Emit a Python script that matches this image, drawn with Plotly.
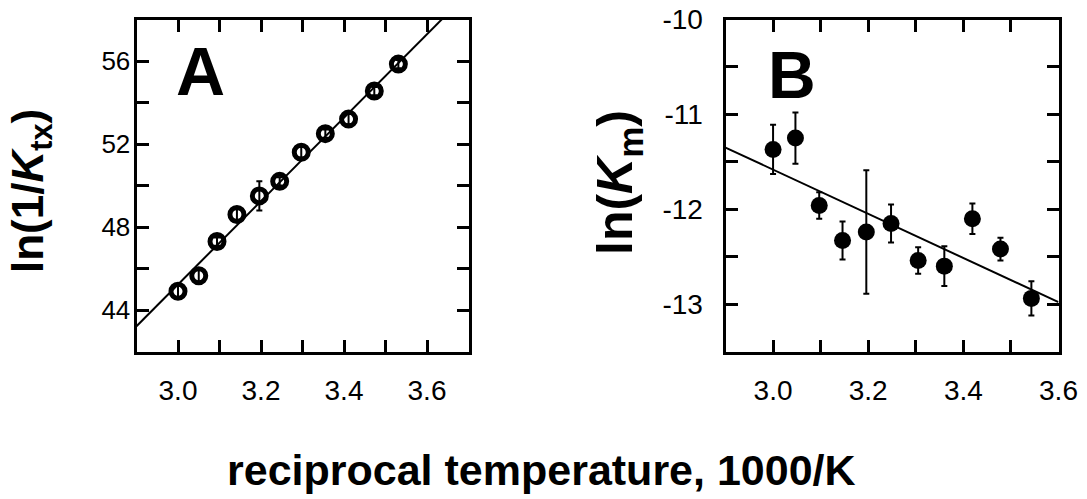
import plotly.graph_objects as go

# Panel A: ln(1/Ktx) vs reciprocal temperature
a_x = [3.00, 3.05, 3.094, 3.142, 3.196, 3.245, 3.297, 3.355, 3.411, 3.473, 3.531]
a_y = [44.9, 45.65, 47.3, 48.6, 49.5, 50.2, 51.6, 52.5, 53.2, 54.55, 55.85]
a_err = [0.3, 0.3, 0.2, 0.25, 0.7, 0.2, 0.25, 0.2, 0.25, 0.2, 0.2]
a_fit_x = [2.9, 3.7]
a_fit_y = [43.22, 59.3]

# Panel B: ln(Km) vs reciprocal temperature
b_x = [3.00, 3.047, 3.097, 3.146, 3.196, 3.248, 3.305, 3.36, 3.419, 3.478, 3.543]
b_y = [-11.37, -11.25, -11.96, -12.33, -12.24, -12.15, -12.54, -12.60, -12.10, -12.42, -12.94]
b_err = [0.26, 0.27, 0.14, 0.20, 0.65, 0.20, 0.14, 0.21, 0.16, 0.12, 0.18]
b_fit_x = [2.9, 3.6]
b_fit_y = [-11.35, -12.98]

# Tick positions and labels
a_xticks = [3.0, 3.1, 3.2, 3.3, 3.4, 3.5, 3.6]
a_xlabels = ["3.0", "", "3.2", "", "3.4", "", "3.6"]
a_yticks = [44, 46, 48, 50, 52, 54, 56]
a_ylabels = ["44", "", "48", "", "52", "", "56"]
b_xticks = [3.0, 3.1, 3.2, 3.3, 3.4, 3.5, 3.6]
b_xlabels = ["3.0", "", "3.2", "", "3.4", "", "3.6"]
b_yticks = [-13.0, -12.5, -12.0, -11.5, -11.0, -10.5, -10.0]
b_ylabels = ["-13", "", "-12", "", "-11", "", "-10"]

FONT = "Arial, Liberation Sans, sans-serif"
W, H = 1087, 499

fig = go.Figure()

fig.add_trace(go.Scatter(
    x=a_fit_x, y=a_fit_y, mode="lines",
    line=dict(color="black", width=2), xaxis="x", yaxis="y", showlegend=False))
fig.add_trace(go.Scatter(
    x=a_x, y=a_y, mode="markers",
    marker=dict(symbol="circle-open", size=14, color="black", line=dict(width=5)),
    error_y=dict(type="data", array=a_err, color="black", thickness=2, width=3),
    xaxis="x", yaxis="y", showlegend=False))

fig.add_trace(go.Scatter(
    x=b_fit_x, y=b_fit_y, mode="lines",
    line=dict(color="black", width=2), xaxis="x2", yaxis="y2", showlegend=False))
fig.add_trace(go.Scatter(
    x=b_x, y=b_y, mode="markers",
    marker=dict(symbol="circle", size=17, color="black"),
    error_y=dict(type="data", array=b_err, color="black", thickness=2, width=3),
    xaxis="x2", yaxis="y2", showlegend=False))

common = dict(showline=True, linewidth=3, linecolor="black", mirror="ticks",
              ticks="inside", ticklen=12, tickwidth=3, tickcolor="black",
              showgrid=False, zeroline=False, automargin=False)


def tf(size):
    return dict(family=FONT, size=size, color="black")


# frame line centres: A x 135..470, B x 724..1060, both y 18..353
y_dom = [(H - 351.5) / H, (H - 19.5) / H]

fig.update_layout(
    width=W, height=H, autosize=False,
    margin=dict(l=0, r=0, t=0, b=0, autoexpand=False),
    paper_bgcolor="white", plot_bgcolor="white",
    xaxis=dict(domain=[136.5 / W, 468.5 / W], range=[2.9, 3.7], anchor="y",
               tickvals=a_xticks, ticktext=a_xlabels, ticklabelstandoff=12,
               tickfont=tf(28), **common),
    yaxis=dict(domain=y_dom, range=[42, 58], anchor="x",
               tickvals=a_yticks, ticktext=a_ylabels, ticklabelstandoff=-2,
               tickfont=tf(26), **common),
    xaxis2=dict(domain=[725.5 / W, 1058.5 / W], range=[2.9, 3.6], anchor="y2",
                tickvals=b_xticks, ticktext=b_xlabels, ticklabelstandoff=12,
                tickfont=tf(28), **common),
    yaxis2=dict(domain=y_dom, range=[-13.5, -10], anchor="x2",
                tickvals=b_yticks, ticktext=b_ylabels, ticklabelstandoff=14,
                tickfont=tf(28), **common),
)

annos = [
    dict(text="<b>A</b>", x=200 / W, y=1 - 71 / H, size=68, angle=0),
    dict(text="<b>B</b>", x=792 / W, y=1 - 75 / H, size=66, angle=0),
    dict(text="<b>ln(1/<i>K</i><sub>tx</sub>)</b>", x=31 / W, y=1 - 191 / H, size=44, angle=-90),
    dict(text="<b>ln(<i>K</i><sub>m</sub>)</b>", x=618 / W, y=1 - 183 / H, size=50, angle=-90),
    dict(text="<b>reciprocal temperature, 1000/K</b>", x=541 / W, y=1 - 470 / H, size=43, angle=0),
]
for a in annos:
    fig.add_annotation(
        text=a["text"], x=a["x"], y=a["y"], xref="paper", yref="paper",
        xanchor="center", yanchor="middle", showarrow=False, textangle=a["angle"],
        font=tf(a["size"]))

fig.write_html("out.html")
